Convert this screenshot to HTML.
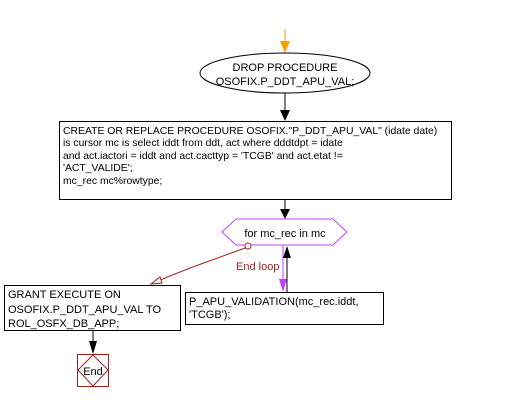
<!DOCTYPE html>
<html><head><style>
body{margin:0;background:#fff;width:509px;height:401px;overflow:hidden}
svg text{font-family:"Liberation Sans",sans-serif;font-size:11px;fill:#000}
</style></head><body>
<svg width="509" height="401" viewBox="0 0 509 401">
<line x1="285" y1="29" x2="285" y2="45" stroke="#f5a000" stroke-width="1"/>
<polygon points="280,41 290,41 285,53" fill="#f5a000"/>
<ellipse cx="285" cy="73" rx="85" ry="20" fill="#fff" stroke="#000"/>
<text x="285" y="71" text-anchor="middle">DROP PROCEDURE</text>
<text x="285" y="85" text-anchor="middle">OSOFIX.P_DDT_APU_VAL;</text>
<line x1="285" y1="93" x2="285" y2="114" stroke="#000"/>
<polygon points="280,110 290,110 285,121" fill="#000"/>
<rect x="59.5" y="121.5" width="392" height="78" fill="#fff" stroke="#000"/>
<g style="font-size:10.4px">
<text x="63" y="134" style="font-size:10.4px">CREATE OR REPLACE PROCEDURE OSOFIX."P_DDT_APU_VAL" (idate  date)</text>
<text x="63" y="146" style="font-size:10.4px">is cursor mc is select iddt from ddt, act where dddtdpt = idate</text>
<text x="63" y="159" style="font-size:10.4px">and act.iactori = iddt and act.cacttyp = 'TCGB' and act.etat !=</text>
<text x="63" y="171" style="font-size:10.4px">'ACT_VALIDE';</text>
<text x="63" y="184" style="font-size:10.4px">mc_rec  mc%rowtype;</text>
</g>
<line x1="285" y1="200" x2="285" y2="213" stroke="#000"/>
<polygon points="280,209 290,209 285,219" fill="#000"/>
<polygon points="222,232 236,219 333,219 347,232 333,245 236,245" fill="#fff" stroke="#c040ff"/>
<text x="285" y="237" text-anchor="middle">for mc_rec in mc</text>
<line x1="283" y1="245" x2="283" y2="282" stroke="#c040ff"/>
<polygon points="279,279 287,279 283,292" fill="#c040ff"/>
<line x1="287" y1="292" x2="287" y2="255" stroke="#000"/>
<polygon points="283,258 291,258 287,246" fill="#000"/>
<text x="236" y="270" style="fill:#a02020;font-size:11px">End loop</text>
<polyline points="248,247 190,268 165,278 151,284" fill="none" stroke="#a02020"/>
<polygon points="151,284 160,277 162,283" fill="#fff" stroke="#a02020"/>
<circle cx="248" cy="246" r="3" fill="#fff" stroke="#a02020"/>
<rect x="185.5" y="292.5" width="198" height="32" fill="#fff" stroke="#000"/>
<text x="189" y="305">P_APU_VALIDATION(mc_rec.iddt,</text>
<text x="189" y="318">'TCGB');</text>
<rect x="4.5" y="285.5" width="176" height="45" fill="#fff" stroke="#000"/>
<text x="8" y="298">GRANT EXECUTE ON</text>
<text x="8" y="313">OSOFIX.P_DDT_APU_VAL TO</text>
<text x="8" y="327">ROL_OSFX_DB_APP;</text>
<line x1="93" y1="331" x2="93" y2="345" stroke="#000"/>
<polygon points="89,341 97,341 93,354" fill="#000"/>
<rect x="77.5" y="354.5" width="31" height="32" fill="#fff" stroke="#a02020"/>
<polygon points="93,355 108,370 93,386 78,370" fill="none" stroke="#a02020"/>
<text x="93" y="375" text-anchor="middle">End</text>
</svg>
</body></html>
